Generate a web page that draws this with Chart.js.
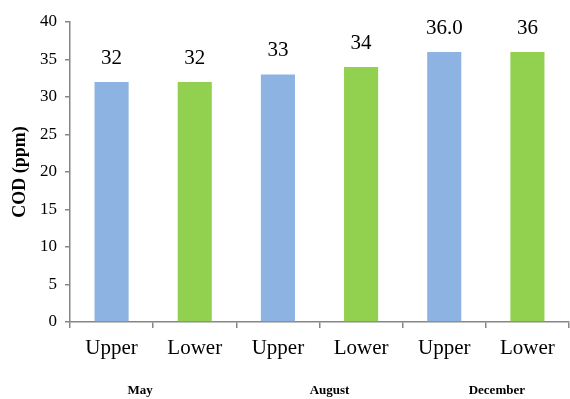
<!DOCTYPE html>
<html>
<head>
<meta charset="utf-8">
<script src="https://cdn.jsdelivr.net/npm/chart.js@4/dist/chart.umd.min.js"></script>
<style>
  html, body { margin: 0; padding: 0; background: #fff; }
  #wrap { width: 570px; height: 399px; }
</style>
</head>
<body>
<div id="wrap"><canvas id="c" width="570" height="399"></canvas></div>
<script>
// Sampling positions and sampling months
const positions = ['Upper', 'Lower', 'Upper', 'Lower', 'Upper', 'Lower'];
const months = ['May', 'August', 'December'];
// COD readings (ppm) and the labels printed above each bar
const codValues = [32, 32, 33, 34, 36, 36];
const codLabels = ['32', '32', '33', '34', '36.0', '36'];
const yTicks = [0, 5, 10, 15, 20, 25, 30, 35, 40];

const BLUE = '#8DB3E2';
const GREEN = '#92D050';
const AXIS = '#868686';
const SERIF = '"Liberation Serif", "Times New Roman", serif';

const barColors = positions.map(p => (p === 'Upper' ? BLUE : GREEN));
// month captions sit a little off the centre of each pair
const monthShift = [-13, 10, 11];

// Value labels above bars plus the month captions under each pair
const annotate = {
  id: 'annotate',
  afterDatasetsDraw(chart) {
    const ctx = chart.ctx;
    const meta = chart.getDatasetMeta(0);
    ctx.save();
    ctx.fillStyle = '#000';
    ctx.font = '21px ' + SERIF;
    ctx.textAlign = 'center';
    ctx.textBaseline = 'middle';
    meta.data.forEach((bar, i) => {
      ctx.fillText(codLabels[i], bar.x, bar.y - 24);
    });
    const xs = chart.scales.x;
    ctx.font = 'bold 13px ' + SERIF;
    months.forEach((m, g) => {
      const cx = (xs.getPixelForValue(2 * g) + xs.getPixelForValue(2 * g + 1)) / 2;
      ctx.fillText(m, cx + monthShift[g], 391);
    });
    ctx.restore();
  }
};

new Chart(document.getElementById('c'), {
  type: 'bar',
  data: {
    labels: positions,
    datasets: [{
      data: codValues,
      backgroundColor: barColors,
      borderWidth: 0,
      barPercentage: 0.41,
      categoryPercentage: 1.0
    }]
  },
  options: {
    responsive: false,
    animation: false,
    devicePixelRatio: 1,
    layout: { padding: { top: 22, right: 1, left: 0, bottom: 0 } },
    plugins: {
      legend: { display: false },
      tooltip: { enabled: false },
      title: { display: false }
    },
    scales: {
      x: {
        offset: true,
        grid: {
          offset: true,
          drawOnChartArea: false,
          drawTicks: true,
          tickLength: 6,
          color: AXIS,
          lineWidth: 1.5
        },
        border: { color: AXIS, width: 1.5 },
        ticks: {
          color: '#000',
          font: { family: SERIF, size: 21 },
          padding: 8,
          maxRotation: 0
        },
        afterFit(scale) { scale.height = 77; }
      },
      y: {
        min: 0,
        max: 40,
        afterBuildTicks(scale) { scale.ticks = yTicks.map(v => ({ value: v })); },
        grid: {
          drawOnChartArea: false,
          drawTicks: true,
          tickLength: 5,
          color: AXIS,
          lineWidth: 1.5
        },
        border: { color: AXIS, width: 1.5 },
        ticks: {
          color: '#000',
          font: { family: SERIF, size: 17 },
          padding: 8
        },
        title: {
          display: true,
          text: 'COD (ppm)',
          color: '#000',
          font: { family: SERIF, size: 18, weight: 'bold' },
          padding: { top: 10, bottom: 4 }
        },
        afterFit(scale) { scale.width = 70; }
      }
    }
  },
  plugins: [annotate]
});
</script>
</body>
</html>
